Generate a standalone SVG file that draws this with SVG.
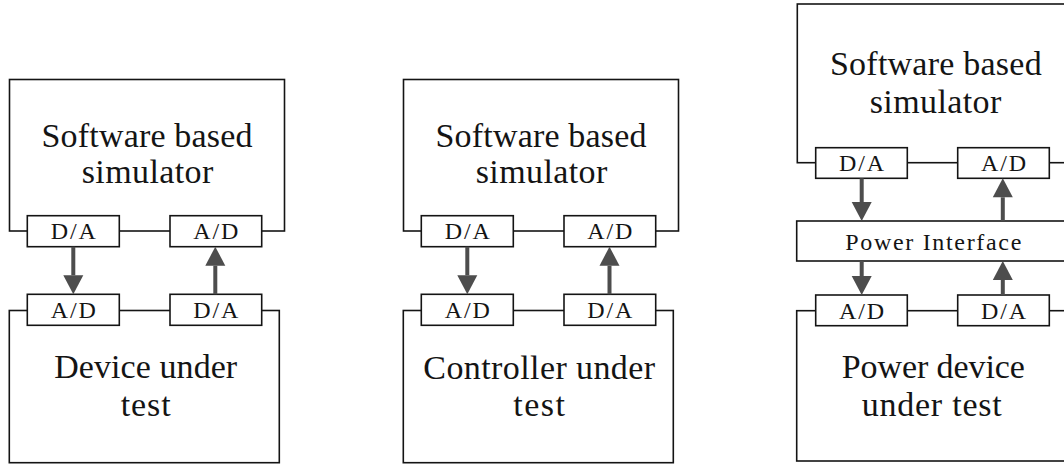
<svg xmlns="http://www.w3.org/2000/svg" width="1064" height="464" viewBox="0 0 1064 464">
  <style>
    .frame { fill: none; stroke: #141414; stroke-width: 1.6; }
    .port { fill: #ffffff; stroke: #141414; stroke-width: 1.6; }
    text { fill: #141414; text-anchor: middle; }
    .big { font-size: 34px; }
    .small { font-size: 24px; }
    .arrow { stroke: #4d4d4d; stroke-width: 4; fill: none; marker-end: url(#head); }
  </style>
  <defs>
    <marker id="head" markerUnits="userSpaceOnUse" markerWidth="20" markerHeight="20" refX="0" refY="10" orient="auto" overflow="visible">
      <path d="M0,0 L19,10 L0,20 Z" fill="#4d4d4d"/>
    </marker>
  </defs>
  <rect width="1064" height="464" fill="#ffffff"/>

  <g font-family="Liberation Serif, Tinos, Noto Serif, DejaVu Serif, Times New Roman, serif">
  <!-- Left setup: simulator + device -->
  <g id="sim1">
    <rect class="frame" x="9.5" y="79.5" width="275" height="151.5"/>
    <text class="big" x="147" y="146.7" textLength="211">Software based</text>
    <text class="big" x="147.5" y="183.3" textLength="131.6">simulator</text>
  </g>
  <g id="sim1-da">
    <rect class="port" x="27.3" y="215.7" width="92" height="31"/>
    <text class="small" x="73.3" y="239.3" textLength="45">D/A</text>
  </g>
  <g id="sim1-ad">
    <rect class="port" x="170" y="215.7" width="91.7" height="31"/>
    <text class="small" x="215.8" y="239.3" textLength="45">A/D</text>
  </g>
  <g id="dut1">
    <rect class="frame" x="9.3" y="310.5" width="270" height="152.2"/>
    <text class="big" x="145.7" y="377.8" textLength="183">Device under</text>
    <text class="big" x="145.7" y="415.7" textLength="50">test</text>
  </g>
  <g id="dut1-ad">
    <rect class="port" x="27.3" y="294.3" width="92" height="31"/>
    <text class="small" x="73.3" y="317.9" textLength="45">A/D</text>
  </g>
  <g id="dut1-da">
    <rect class="port" x="170" y="294.3" width="91.7" height="31"/>
    <text class="small" x="215.8" y="317.9" textLength="45">D/A</text>
  </g>

  <!-- Middle setup: simulator + controller -->
  <g id="sim2">
    <rect class="frame" x="403.5" y="79.5" width="275" height="151.5"/>
    <text class="big" x="541" y="146.7" textLength="211">Software based</text>
    <text class="big" x="541.5" y="183.3" textLength="131.6">simulator</text>
  </g>
  <g id="sim2-da">
    <rect class="port" x="421.3" y="215.7" width="92" height="31"/>
    <text class="small" x="467.3" y="239.3" textLength="45">D/A</text>
  </g>
  <g id="sim2-ad">
    <rect class="port" x="564" y="215.7" width="91.7" height="31"/>
    <text class="small" x="609.8" y="239.3" textLength="45">A/D</text>
  </g>
  <g id="cut2">
    <rect class="frame" x="403.3" y="310.5" width="270" height="152.2"/>
    <text class="big" x="539.2" y="378.8" textLength="231.7">Controller under</text>
    <text class="big" x="539.2" y="416" textLength="51.7">test</text>
  </g>
  <g id="cut2-ad">
    <rect class="port" x="421.3" y="294.3" width="92" height="31"/>
    <text class="small" x="467.3" y="317.9" textLength="45">A/D</text>
  </g>
  <g id="cut2-da">
    <rect class="port" x="564" y="294.3" width="91.7" height="31"/>
    <text class="small" x="609.8" y="317.9" textLength="45">D/A</text>
  </g>

  <!-- Right setup: simulator + power interface + power device -->
  <g id="sim3">
    <rect class="frame" x="797.3" y="4" width="275" height="158.7"/>
    <text class="big" x="935.8" y="75" textLength="211.7">Software based</text>
    <text class="big" x="935.5" y="113.3" textLength="131.6">simulator</text>
  </g>
  <g id="sim3-da">
    <rect class="port" x="815.7" y="147.7" width="91.6" height="30.6"/>
    <text class="small" x="861.5" y="171.2" textLength="45">D/A</text>
  </g>
  <g id="sim3-ad">
    <rect class="port" x="957.7" y="147.7" width="91.6" height="30.6"/>
    <text class="small" x="1003.5" y="171.2" textLength="45">A/D</text>
  </g>
  <g id="power-interface">
    <rect class="frame" x="796.7" y="221" width="276" height="40"/>
    <text class="small" x="933.3" y="249.5" textLength="176">Power Interface</text>
  </g>
  <g id="pdut3">
    <rect class="frame" x="796.7" y="310.7" width="276" height="150.3"/>
    <text class="big" x="933.3" y="378.3" textLength="183.3">Power device</text>
    <text class="big" x="931.7" y="416" textLength="140">under test</text>
  </g>
  <g id="pdut3-ad">
    <rect class="port" x="815.7" y="295" width="91.6" height="30.7"/>
    <text class="small" x="861.5" y="318.5" textLength="45">A/D</text>
  </g>
  <g id="pdut3-da">
    <rect class="port" x="957.7" y="295" width="91.6" height="30.7"/>
    <text class="small" x="1003.5" y="318.5" textLength="45">D/A</text>
  </g>
  </g>

  <!-- Signal flow between converters -->
  <g id="connectors">
    <line class="arrow" x1="73.3" y1="246.7" x2="73.3" y2="275.3"/>
    <line class="arrow" x1="215.3" y1="294.3" x2="215.3" y2="265.7"/>
    <line class="arrow" x1="467.3" y1="246.7" x2="467.3" y2="275.3"/>
    <line class="arrow" x1="609.5" y1="294.3" x2="609.5" y2="265.7"/>
    <line class="arrow" x1="861.7" y1="178.3" x2="861.7" y2="202"/>
    <line class="arrow" x1="1002.8" y1="221" x2="1002.8" y2="197.3"/>
    <line class="arrow" x1="861.7" y1="261" x2="861.7" y2="276"/>
    <line class="arrow" x1="1002.8" y1="295" x2="1002.8" y2="280"/>
  </g>
</svg>
